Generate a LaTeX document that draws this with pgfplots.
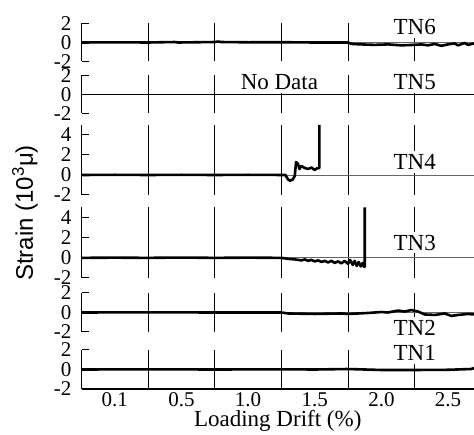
\documentclass[border=0pt]{standalone}
\usepackage{fontspec}
\setmainfont{Liberation Serif}
\setsansfont{Liberation Sans}
\usepackage{pgfplots}
\pgfplotsset{compat=1.18}
\tikzset{tnlab/.style={fill=white, inner sep=3bp, font=\fontsize{23bp}{23bp}\selectfont},
 dat/.style={black, mark=none, line width=2.6bp, line join=round}}
\pgfplotsset{
 panel/.style={
  scale only axis, width=392.5bp, anchor=south west,
  xmin=0, xmax=5.89,
  axis y line*=left, axis x line*=bottom,
  x axis line style={draw=none},
  y axis line style={line width=1.1bp},
  xtick={1,2,3,4,5}, xticklabels={}, xtick style={draw=none},
  xmajorgrids, major grid style={black, line width=0.9bp},
  tick align=inside, major tick length=7bp,
  ytick style={line width=1bp, black},
  yticklabel style={font=\fontsize{21bp}{21bp}\selectfont, inner sep=0pt, xshift=-10bp},
  extra y ticks={0}, extra y tick labels={},
  extra y tick style={ymajorgrids=true, major grid style={black!60, line width=0.8bp}, major tick length=0pt},
  clip=false,
 },
}
\begin{document}
\begin{tikzpicture}
\path[use as bounding box] (0,0) rectangle (474bp,435bp);
% TN6
\begin{axis}[panel, at={(81.5bp,373.5bp)}, height=38bp, ymin=-2, ymax=2,
  ytick={-2,0,2}, yticklabels={-2,0,2}]
\addplot[dat] coordinates {(0,0) (0.5,0.02) (1.0,0) (1.4,0.05) (1.45,0) (2.0,0.05) (2.05,0.1) (2.1,0.05) (2.5,0.02) (3.0,0.03) (3.5,0) (4.0,0) (4.05,-0.15) (4.2,-0.2) (4.4,-0.25) (4.6,-0.2) (4.8,-0.3) (5.0,-0.25) (5.1,-0.2) (5.2,-0.3) (5.3,-0.15) (5.4,-0.35) (5.5,-0.2) (5.6,-0.1) (5.65,-0.3) (5.75,-0.05) (5.8,-0.25) (5.89,-0.1)};
\node[tnlab] at (axis cs:5,1.6) {TN6};
\end{axis}
% TN5
\begin{axis}[panel, at={(81.5bp,321.5bp)}, height=38bp, ymin=-2, ymax=2,
  ytick={-2,0,2}, yticklabels={-2,0,2},
  extra y tick style={ymajorgrids=true, major grid style={black, line width=0.9bp}, major tick length=0pt}]
\node[tnlab] at (axis cs:2.97,1.3) {No Data};
\node[tnlab] at (axis cs:5,1.3) {TN5};
\end{axis}
% TN4
\begin{axis}[panel, at={(81.5bp,240bp)}, height=70bp, ymin=-2, ymax=5,
  ytick={-2,0,2,4}, yticklabels={-2,0,2,4}]
\addplot[dat] coordinates {(0,0) (0.5,0.02) (1.0,0) (1.5,0.02) (2.0,0) (2.5,0.02) (3.06,0) (3.1,-0.45) (3.13,-0.57) (3.17,-0.45) (3.2,-0.1) (3.22,1.3) (3.25,1.1) (3.27,0.6) (3.3,0.9) (3.35,0.7) (3.4,0.6) (3.45,0.75) (3.5,0.5) (3.53,0.65) (3.57,0.7) (3.57,5.0)};
\node[tnlab] at (axis cs:5,1.3) {TN4};
\end{axis}
% TN3
\begin{axis}[panel, at={(81.5bp,157bp)}, height=70.5bp, ymin=-2, ymax=5,
  ytick={-2,0,2,4}, yticklabels={-2,0,2,4}]
\addplot[dat] coordinates {(0,0) (0.5,0.02) (1,0) (1.5,0.03) (2,0) (2.5,0.02) (3,0) (3.1,-0.1) (3.2,-0.15) (3.3,-0.25) (3.35,-0.15) (3.4,-0.3) (3.45,-0.2) (3.5,-0.35) (3.55,-0.25) (3.6,-0.4) (3.65,-0.3) (3.7,-0.45) (3.75,-0.3) (3.8,-0.5) (3.85,-0.35) (3.9,-0.55) (3.95,-0.3) (4.0,-0.6) (4.03,-0.2) (4.07,-0.7) (4.1,-0.3) (4.13,-0.8) (4.16,-0.4) (4.19,-0.85) (4.22,-0.5) (4.24,-0.9) (4.25,-0.9) (4.25,5.0)};
\node[tnlab] at (axis cs:5,1.5) {TN3};
\end{axis}
% TN2
\begin{axis}[panel, at={(81.5bp,103bp)}, height=39bp, ymin=-2, ymax=2,
  ytick={-2,0,2}, yticklabels={-2,0,2}]
\addplot[dat] coordinates {(0,0) (1,0.02) (2,0) (3,0) (3.1,-0.1) (3.5,-0.15) (3.9,-0.1) (4.0,-0.15) (4.3,-0.05) (4.5,0.05) (4.6,0.0) (4.75,0.2) (4.85,0.1) (4.95,0.25) (5.05,0.1) (5.15,-0.2) (5.3,-0.25) (5.45,-0.1) (5.55,-0.35) (5.65,-0.25) (5.8,-0.15) (5.89,-0.2)};
\node[tnlab] at (axis cs:5,-1.6) {TN2};
\end{axis}
% TN1
\begin{axis}[panel, at={(81.5bp,46bp)}, height=39bp, ymin=-2, ymax=2,
  ytick={-2,0,2}, yticklabels={-2,0,2},
  x axis line style={draw=black, line width=1.1bp},
  extra x ticks={0.5,1.5,2.5,3.5,4.5,5.5},
  extra x tick labels={0.1,0.5,1.0,1.5,2.0,2.5},
  extra x tick style={grid=none, major tick length=0pt},
  xticklabel style={font=\fontsize{21bp}{21bp}\selectfont},
  xlabel={Loading Drift (\%)},
  xlabel style={font=\fontsize{23bp}{23bp}\selectfont, inner sep=0pt, yshift=0bp}]
\addplot[dat] coordinates {(0,0) (1,0.02) (2,0) (3,0.02) (3.5,0) (4,0.05) (4.5,-0.05) (5,-0.05) (5.5,-0.03) (5.85,0.05) (5.89,0.15)};
\node[tnlab] at (axis cs:5,1.7) {TN1};
\end{axis}
\node[rotate=90, font=\sffamily\fontsize{24bp}{24bp}\selectfont] at (25bp,222bp) {Strain (10\textsuperscript{3}μ)};
\end{tikzpicture}
\end{document}
